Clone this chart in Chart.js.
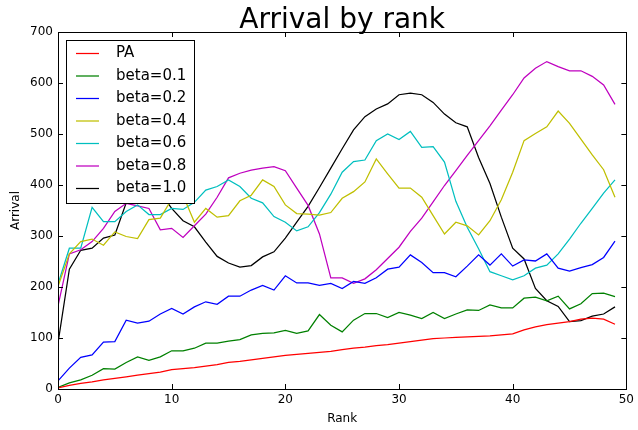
<!DOCTYPE html>
<html>
<head>
<meta charset="utf-8">
<title>Arrival by rank</title>
<script src="https://cdn.jsdelivr.net/npm/chart.js@4.4.1/dist/chart.umd.min.js"></script>
<style>
    html, body { margin: 0; padding: 0; background: #fff; }
    #wrap { width: 638px; height: 430px; }
</style>
</head>
<body>
<div id="wrap"><canvas id="chart" width="638" height="430"></canvas></div>
<script>
// ranks on the x axis
const ranks = [0, 1, 2, 3, 4, 5, 6, 7, 8, 9, 10, 11, 12, 13, 14, 15, 16, 17, 18, 19,
    20, 21, 22, 23, 24, 25, 26, 27, 28, 29, 30, 31, 32, 33, 34, 35, 36, 37, 38, 39,
    40, 41, 42, 43, 44, 45, 46, 47, 48, 49];

const xTicks = [0, 10, 20, 30, 40, 50];
const yTicks = [0, 100, 200, 300, 400, 500, 600, 700];

const pa = [2, 7, 11, 14, 18, 21, 24, 27, 30, 33, 38, 40, 42, 45, 48, 52, 54, 57, 60, 63,
    66, 68, 70, 72, 74, 77, 80, 82, 85, 87, 90, 93, 96, 99, 100, 101, 102, 103, 104, 106,
    108, 116, 122, 126, 129, 132, 137, 139, 137, 127];
const beta01 = [3, 12, 18, 27, 40, 39, 52, 63, 56, 63, 75, 75, 80, 90, 90, 94, 97, 106, 109, 110,
    115, 109, 114, 146, 125, 112, 135, 148, 148, 140, 150, 145, 138, 150, 138, 147, 155, 154, 165, 159,
    159, 178, 180, 173, 182, 157, 167, 187, 188, 181];
const beta02 = [16, 41, 62, 67, 92, 93, 135, 129, 133, 147, 158, 147, 161, 171, 166, 182, 182, 194, 203, 194,
    222, 208, 208, 203, 207, 197, 211, 207, 218, 235, 239, 263, 248, 228, 228, 220, 241, 263, 243, 265,
    241, 253, 251, 265, 237, 231, 238, 244, 258, 290];
const beta04 = [201, 265, 289, 294, 282, 308, 299, 295, 332, 335, 372, 380, 327, 354, 337, 340, 369, 380, 410, 397,
    361, 344, 343, 341, 346, 374, 387, 406, 451, 422, 394, 394, 376, 340, 304, 327, 320, 302, 330, 371,
    425, 487, 501, 514, 545, 521, 490, 459, 430, 376];
const beta06 = [206, 276, 276, 356, 328, 328, 348, 361, 342, 342, 354, 352, 366, 390, 397, 410, 397, 374, 365, 338,
    327, 310, 318, 346, 382, 425, 446, 449, 487, 500, 489, 505, 474, 475, 445, 368, 317, 275, 230, 222,
    214, 222, 237, 243, 265, 294, 325, 354, 384, 410];
const beta08 = [163, 265, 273, 289, 315, 348, 364, 359, 354, 312, 315, 297, 320, 343, 376, 414, 423, 429, 433, 436,
    428, 394, 360, 304, 218, 218, 207, 216, 234, 256, 278, 309, 335, 367, 399, 428, 458, 487, 516, 547,
    577, 610, 629, 642, 632, 624, 624, 613, 596, 558];
const beta10 = [90, 235, 272, 276, 296, 302, 365, 368, 372, 385, 354, 330, 318, 288, 260, 247, 239, 242, 259, 269,
    296, 327, 358, 395, 433, 471, 508, 534, 549, 559, 577, 580, 577, 562, 539, 522, 514, 454, 403, 337,
    276, 255, 197, 173, 162, 132, 134, 143, 147, 161];

const seriesNames = ['PA', 'beta=0.1', 'beta=0.2', 'beta=0.4', 'beta=0.6', 'beta=0.8', 'beta=1.0'];
const seriesValues = [pa, beta01, beta02, beta04, beta06, beta08, beta10];
const seriesColors = ['#ff0000', '#008000', '#0000ff', '#bfbf00', '#00bfbf', '#bf00bf', '#000000'];

const FONT = 'DejaVu Sans';
Chart.defaults.font.family = FONT;
Chart.defaults.color = '#000';

// title, box with inward ticks on all four sides, legend inside the axes
const mplDecor = {
    id: 'mplDecor',
    afterDatasetsDraw(chart) {
        const { ctx, chartArea: area, scales } = chart;
        const TICK = 5;
        ctx.save();
        ctx.strokeStyle = '#000';
        ctx.lineWidth = 1;

        ctx.beginPath();
        xTicks.forEach(v => {
            const px = Math.round(scales.x.getPixelForValue(v)) + 0.5;
            ctx.moveTo(px, area.bottom); ctx.lineTo(px, area.bottom - TICK);
            ctx.moveTo(px, area.top); ctx.lineTo(px, area.top + TICK);
        });
        yTicks.forEach(v => {
            const py = Math.round(scales.y.getPixelForValue(v)) + 0.5;
            ctx.moveTo(area.left, py); ctx.lineTo(area.left + TICK, py);
            ctx.moveTo(area.right, py); ctx.lineTo(area.right - TICK, py);
        });
        ctx.stroke();
        ctx.strokeRect(Math.round(area.left) + 0.5, Math.round(area.top) + 0.5,
            Math.round(area.right - area.left), Math.round(area.bottom - area.top));

        // legend
        const lx = area.left + 8, ly = area.top + 8;
        const lw = 128, lh = 163, rowH = 22.5;
        ctx.fillStyle = '#fff';
        ctx.fillRect(lx, ly, lw, lh);
        ctx.strokeRect(Math.round(lx) + 0.5, Math.round(ly) + 0.5, lw, lh);
        ctx.font = '15px "' + FONT + '"';
        ctx.textBaseline = 'middle';
        ctx.textAlign = 'left';
        seriesNames.forEach((name, i) => {
            const y = ly + 13.5 + i * rowH;
            ctx.strokeStyle = seriesColors[i];
            ctx.lineWidth = 1.25;
            ctx.beginPath();
            ctx.moveTo(lx + 10, y); ctx.lineTo(lx + 33, y);
            ctx.stroke();
            ctx.fillStyle = '#000';
            ctx.fillText(name, lx + 50, y);
        });

        // title
        ctx.font = '28px "' + FONT + '"';
        ctx.textAlign = 'center';
        ctx.textBaseline = 'alphabetic';
        ctx.fillText('Arrival by rank', (area.left + area.right) / 2, 28);
        ctx.restore();
    }
};

const datasets = seriesNames.map((name, i) => ({
    label: name,
    data: ranks.map((r, j) => ({ x: r, y: seriesValues[i][j] })),
    borderColor: seriesColors[i],
    backgroundColor: seriesColors[i],
    borderWidth: 1.25,
    pointRadius: 0,
    tension: 0,
    fill: false
}));

new Chart(document.getElementById('chart'), {
    type: 'line',
    data: { datasets },
    options: {
        responsive: false,
        animation: false,
        devicePixelRatio: 1,
        layout: { padding: { top: 32, right: 8, left: 0, bottom: 0 } },
        plugins: {
            legend: { display: false },
            tooltip: { enabled: false },
            title: { display: false }
        },
        scales: {
            x: {
                type: 'linear',
                min: 0,
                max: 50,
                afterBuildTicks: scale => { scale.ticks = xTicks.map(v => ({ value: v })); },
                afterFit: scale => { scale.height = 41; },
                grid: { display: false, drawTicks: false },
                border: { display: false },
                ticks: { padding: 4, font: { size: 12 }, color: '#000' },
                title: { display: true, text: 'Rank', font: { size: 12 }, color: '#000', padding: { top: 0, bottom: 4 } }
            },
            y: {
                min: 0,
                max: 700,
                afterBuildTicks: scale => { scale.ticks = yTicks.map(v => ({ value: v })); },
                afterFit: scale => { scale.width = 58; },
                grid: { display: false, drawTicks: false },
                border: { display: false },
                ticks: { padding: 5, font: { size: 12 }, color: '#000' },
                title: { display: true, text: 'Arrival', font: { size: 12 }, color: '#000', padding: { top: 9, bottom: 0 } }
            }
        }
    },
    plugins: [mplDecor]
});
</script>
</body>
</html>
